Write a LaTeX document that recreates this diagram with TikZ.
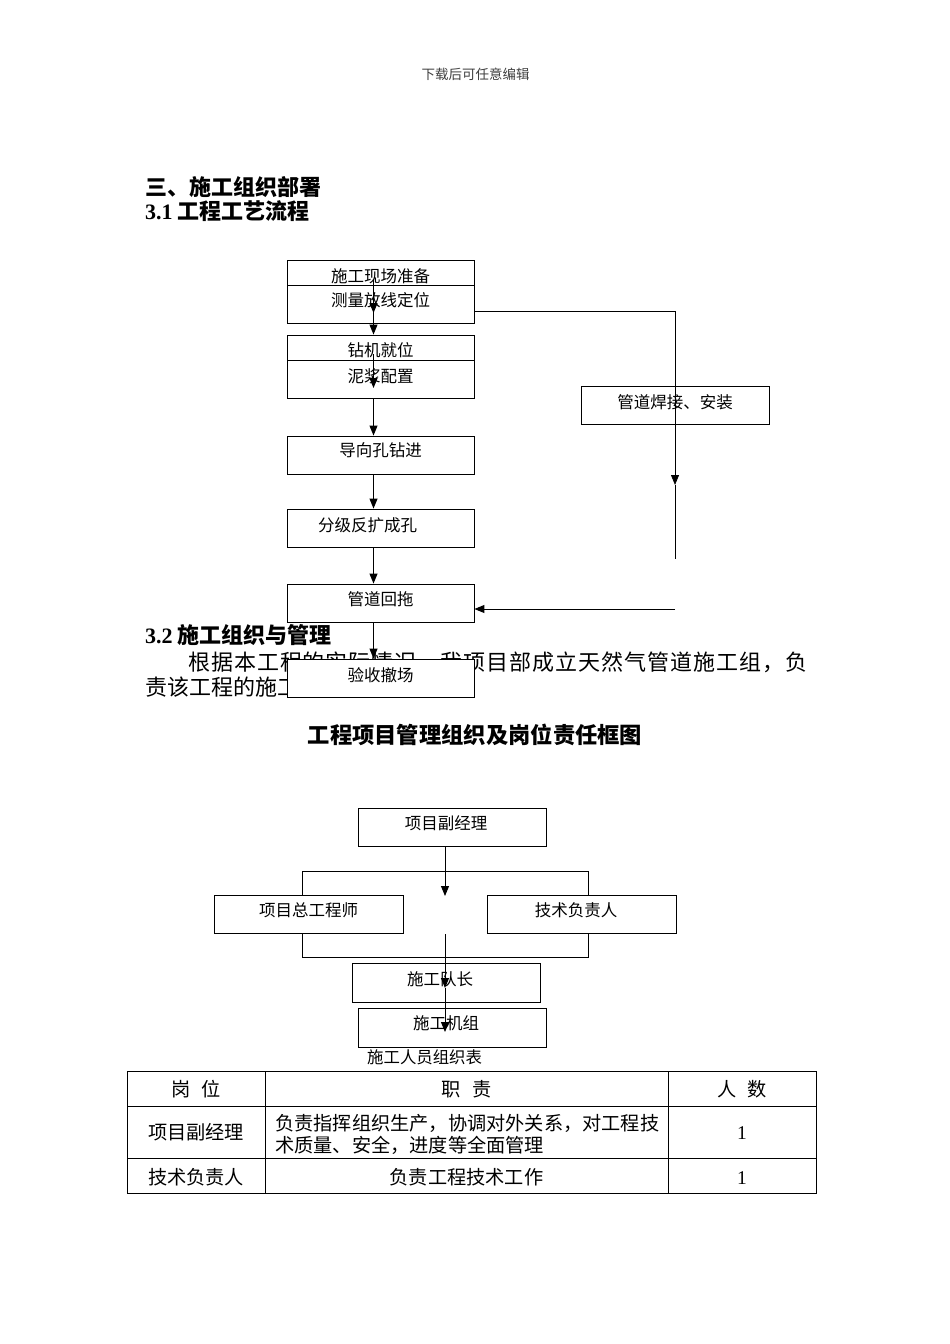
\documentclass[tikz,border=0pt]{standalone}
\usepackage{fontspec}
\setmainfont{Liberation Serif}
\newfontfamily\cjk{Noto Sans CJK SC}
\usetikzlibrary{arrows.meta}
\newcommand\boxtext[2]{\raisebox{\dimexpr#1pt-6.3pt\relax}[0pt][0pt]{#2}}
\newcommand\latnum[1]{{\normalfont\bfseries #1}}
\begin{document}
\begin{tikzpicture}[x=1pt,y=-1pt,
  box/.style={draw, line width=0.9pt, fill=white, minimum width=187pt, minimum height=38pt, inner sep=0pt, font=\cjk\fontsize{16.5}{18}\selectfont},
  arr/.style={line width=1pt, -{Triangle[length=10pt,width=8pt]}},
  ln/.style={line width=0.9pt},
  txt/.style={inner sep=0pt, anchor=west},
  head/.style={txt, font=\cjk\bfseries\fontsize{22}{24}\selectfont},
  para/.style={txt, font=\cjk\fontsize{22}{24}\selectfont},
  cell/.style={inner sep=0pt, font=\cjk\fontsize{19.2}{21}\selectfont},
  num/.style={inner sep=0pt, font=\fontsize{19.5}{21}\selectfont},
]
\path[use as bounding box, fill=white] (0,0) rectangle (950,1344);

% header and headings
\node[inner sep=0pt, text=black!75, font=\cjk\fontsize{13.5}{15}\selectfont] (hdr) at (475.5,74) {下载后可任意编辑};
\node[head] (h3) at (145,187) {三、施工组织部署};
\node[head] (h31) at (145,211) {\latnum{3.1} 工程工艺流程};

% flowchart
\node[box] (b1) at (380.5,279) {\boxtext{3}{施工现场准备}};
\node[box] (b2) at (380.5,304) {\boxtext{4}{测量放线定位}};
\node[box] (b3) at (380.5,354) {\boxtext{4}{钻机就位}};
\node[box] (b4) at (380.5,379) {\boxtext{3}{泥浆配置}};
\node[box] (b5) at (380.5,455) {\boxtext{5}{导向孔钻进}};
\node[box] (b6) at (380.5,528) {\boxtext{3}{分级反扩成孔}\hspace*{26pt}};
\node[box] (b7) at (380.5,603) {\boxtext{4}{管道回拖}};
\node[box, minimum width=188pt] (weld) at (675,405) {\boxtext{3}{管道焊接、安装}};

\draw[arr] ([xshift=-7pt,yshift=-1pt]b1.center) -- ([xshift=-7pt,yshift=-9pt]b2.center);
\draw[arr] ([xshift=-7pt]b2.center) -- ([xshift=-7pt]b3.north);
\draw[arr] ([xshift=-7pt]b3.center) -- ([xshift=-7pt,yshift=-9pt]b4.center);
\draw[arr] ([xshift=-7pt]b4.south) -- ([xshift=-7pt]b5.north);
\draw[arr] ([xshift=-7pt]b5.south) -- ([xshift=-7pt]b6.north);
\draw[arr] ([xshift=-7pt]b6.south) -- ([xshift=-7pt]b7.north);

\coordinate (rc1) at (675,485);
\coordinate (rc2) at (675,559);
\coordinate (rc3) at (675,609);
\draw[arr, line width=0.8pt] ([yshift=-7pt]b2.east) -| (rc1);
\draw[line width=0.8pt] (rc1) -- (rc2);
\draw[arr] (rc3) -- ([yshift=-6pt]b7.east);

% section 3.2
\node[head] (h32) at (145,635) {\latnum{3.2} 施工组织与管理};
\node[para] (p1) at (188,662) {\makebox[619pt][s]{根\hfill 据\hfill 本\hfill 工\hfill 程\hfill 的\hfill 实\hfill 际\hfill 情\hfill 况\hfill ，\hfill 我\hfill 项\hfill 目\hfill 部\hfill 成\hfill 立\hfill 天\hfill 然\hfill 气\hfill 管\hfill 道\hfill 施\hfill 工\hfill 组\hfill ，\hfill 负}};
\node[para] (p2) at (145,687) {责该工程的施工};
\node[box] (b8) at (380.5,678) {\boxtext{3}{验收撤场}};
\draw[arr] ([xshift=-7pt]b7.south) -- ([xshift=-7pt]b8.north);

% org chart
\node[inner sep=0pt, font=\cjk\bfseries\fontsize{22.3}{24}\selectfont] (title) at (475,735) {工程项目管理组织及岗位责任框图};

\draw[ln] (302,871) rectangle (588,957);
\node[box, minimum width=188pt] (o1) at (452,827) {\boxtext{4}{项目副经理}\hspace*{12pt}};
\node[box, minimum width=189pt] (o2) at (308.5,914) {\boxtext{4}{项目总工程师}};
\node[box, minimum width=189pt] (o3) at (581.5,914) {\boxtext{4}{技术负责人}\hspace*{11pt}};
\node[box, minimum width=188pt, minimum height=39pt] (o4) at (446,982.5) {\boxtext{3}{施工队长}\hspace*{12pt}};
\node[box, minimum width=188pt, minimum height=39pt] (o5) at (452,1027.5) {\boxtext{4}{施工机组}\hspace*{12pt}};

\coordinate (oc1) at (445,896);
\coordinate (oc2) at (445,934);
\draw[arr] ([xshift=-7pt]o1.south) -- (oc1);
\draw[arr] (oc2) -- ([xshift=-1pt,yshift=-5.5pt]o4.center);
\draw[arr] ([xshift=-1pt,yshift=-5.5pt]o4.center) -- ([xshift=-7pt,yshift=-4.5pt]o5.center);

\node[txt, font=\cjk\fontsize{16.4}{18}\selectfont] (cap) at (367,1057) {施工人员组织表};

% table
\draw[line width=1pt] (127,1071) rectangle (816,1193);
\draw[line width=1pt] (127,1106) -- (816,1106);
\draw[line width=1pt] (127,1158) -- (816,1158);
\draw[line width=1pt] (265,1071) -- (265,1193);
\draw[line width=1pt] (668,1071) -- (668,1193);

\node[cell] (t11) at (196,1089) {岗\hspace{0.6em}位};
\node[cell] (t12) at (466.5,1089) {职\hspace{0.6em}责};
\node[cell] (t13) at (742,1089) {人\hspace{0.6em}数};
\node[cell] (t21) at (196,1132) {项目副经理};
\node[cell, anchor=west] (t22a) at (275,1123) {负责指挥组织生产，协调对外关系，对工程技};
\node[cell, anchor=west] (t22b) at (275,1145) {术质量、安全，进度等全面管理};
\node[num] (t23) at (742,1133) {1};
\node[cell] (t31) at (196,1177) {技术负责人};
\node[cell] (t32) at (466.5,1177) {负责工程技术工作};
\node[num] (t33) at (742,1178) {1};
\end{tikzpicture}
\end{document}
